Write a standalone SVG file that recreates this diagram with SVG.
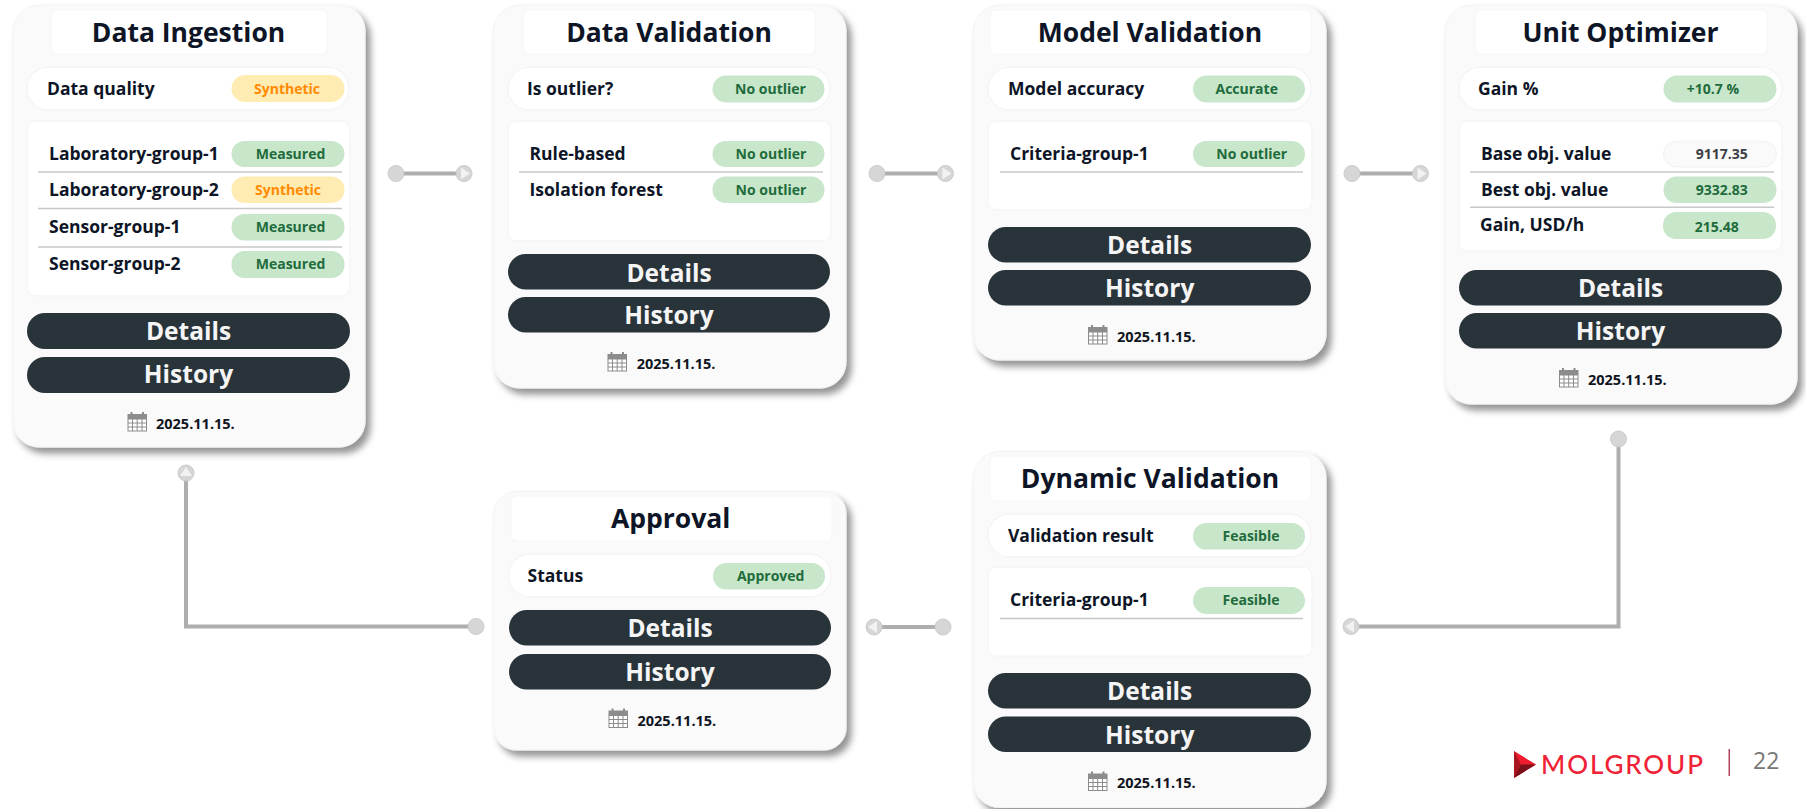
<svg xmlns="http://www.w3.org/2000/svg" width="1806" height="809" viewBox="0 0 1806 809">
<style>
text{font-family:"Open Sans","Noto Sans","Liberation Sans",sans-serif;font-weight:700}
.card{fill:#fafafa;stroke:#f3f3f3;stroke-width:1;filter:url(#sh)}
.title{fill:#fff;stroke:#f6f6f6;stroke-width:1}
.tt{font-size:26.500px;fill:#0d1526;text-anchor:middle}
.row{fill:#fff;stroke:#f5f5f5;stroke-width:1.5}
.panel{fill:#fff;stroke:#f7f7f7;stroke-width:2}
.lb{font-size:17.500px;fill:#0d1526}
.sep{stroke:#c8c8c8;stroke-width:1.5}
.g{fill:#c8e6c9}.y{fill:#ffecb3}.n{fill:#fafafa;stroke:#f2f2f2}
.gt,.yt,.nt{font-size:14px;text-anchor:middle}
.gt{fill:#1e6b3c}.yt{fill:#ff8a00}.nt{fill:#3a3f44}
.btn{fill:#29333a}
.bt{font-size:24.500px;fill:#f5f5f5;text-anchor:middle}
.dt{font-size:14.500px;fill:#10151f}
.ln{fill:none;stroke:#aeaeae;stroke-width:4}
.s{fill:#d6d6d6;stroke:#cccccc;stroke-width:1}
.e{fill:#d6d6d6;stroke:#cccccc;stroke-width:1}
.h{fill:#f2f2f2}
</style>
<defs>
<filter id="sh" x="-10%" y="-10%" width="125%" height="125%"><feDropShadow dx="5" dy="6" stdDeviation="3.5" flood-color="#000" flood-opacity="0.42"/></filter>
<g id="cal">
<rect x="0" y="2" width="19.500" height="5" fill="#8c8c8c"/>
<rect x="3" y="0" width="2" height="4" fill="#8c8c8c"/><rect x="14.500" y="0" width="2" height="4" fill="#8c8c8c"/>
<rect x="0.500" y="7" width="18.500" height="12" fill="#fff" stroke="#8c8c8c"/>
<path d="M0.500 11h18.500M0.500 15h18.500M5 7v12M9.700 7v12M14.500 7v12" stroke="#8c8c8c" stroke-width="1" fill="none"/>
</g>
</defs>
<rect width="1806" height="809" fill="#fff"/>

<g id="connectors">
<path class="ln" d="M396 173.500H464"/><circle class="s" cx="396" cy="173.500" r="8"/><circle class="e" cx="464" cy="173.500" r="8"/><path class="h" d="M461 167.500l9 6-9 6z"/>
<path class="ln" d="M877 173.500H945"/><circle class="s" cx="877" cy="173.500" r="8"/><circle class="e" cx="945.500" cy="173.500" r="8"/><path class="h" d="M942.500 167.500l9 6-9 6z"/>
<path class="ln" d="M1352 173.500H1420"/><circle class="s" cx="1352" cy="173.500" r="8"/><circle class="e" cx="1420.500" cy="173.500" r="8"/><path class="h" d="M1417.500 167.500l9 6-9 6z"/>
<path class="ln" d="M1618.500 439V626.500H1351"/><circle class="s" cx="1618.500" cy="439" r="8"/><circle class="e" cx="1351" cy="626.500" r="8"/><path class="h" d="M1354 620.500l-9 6 9 6z"/>
<path class="ln" d="M943 627H874"/><circle class="s" cx="943" cy="627" r="8"/><circle class="e" cx="874" cy="627" r="8"/><path class="h" d="M877 621l-9 6 9 6z"/>
<path class="ln" d="M476 626.500H186V473"/><circle class="s" cx="476" cy="626.500" r="8"/><circle class="e" cx="186" cy="473" r="8"/><path class="h" d="M180 476l6-9 6 9z"/>
</g>

<g id="data-ingestion">
<rect class="card" x="13" y="5" width="352" height="442" rx="26"/>
<rect class="title" x="51" y="10" width="276" height="44" rx="6"/>
<text class="tt" x="188.500" y="42">Data Ingestion</text>
<rect class="row" x="27" y="67" width="322" height="43" rx="21.500"/>
<text class="lb" x="47" y="95">Data quality</text>
<rect class="y" x="231.500" y="75" width="113" height="27" rx="13.500"/><text class="yt" x="287" y="94">Synthetic</text>
<rect class="panel" x="27" y="121" width="323" height="175" rx="8"/>
<text class="lb" x="49" y="160">Laboratory-group-1</text><rect class="g" x="231.500" y="141" width="113" height="26" rx="13"/><text class="gt" x="290.500" y="159">Measured</text>
<path class="sep" d="M38 172H342M38 208.500H342M38 247H342"/>
<text class="lb" x="49" y="195.500">Laboratory-group-2</text><rect class="y" x="231.500" y="176.500" width="113" height="26.500" rx="13"/><text class="yt" x="288" y="195">Synthetic</text>
<text class="lb" x="49" y="232.500">Sensor-group-1</text><rect class="g" x="231.500" y="214" width="113" height="26.500" rx="13"/><text class="gt" x="290.500" y="232">Measured</text>
<text class="lb" x="49" y="270">Sensor-group-2</text><rect class="g" x="231.500" y="251" width="113" height="27" rx="13"/><text class="gt" x="290.500" y="269">Measured</text>
<rect class="btn" x="27" y="313" width="323" height="36" rx="18"/><text class="bt" x="188.500" y="340">Details</text>
<rect class="btn" x="27" y="357" width="323" height="36" rx="18"/><text class="bt" x="188.500" y="383">History</text>
<use href="#cal" x="127.500" y="412"/><text class="dt" x="156" y="429">2025.11.15.</text>
</g>

<g id="data-validation">
<rect class="card" x="493.500" y="5" width="352.500" height="383" rx="26"/>
<rect class="title" x="523" y="10" width="292" height="44" rx="6"/>
<text class="tt" x="669" y="42">Data Validation</text>
<rect class="row" x="508" y="67" width="322" height="43" rx="21.500"/>
<text class="lb" x="527" y="95">Is outlier?</text>
<rect class="g" x="712.500" y="75.500" width="112" height="27" rx="13.500"/><text class="gt" x="770.500" y="94">No outlier</text>
<rect class="panel" x="508" y="121" width="323" height="120" rx="8"/>
<text class="lb" x="529.500" y="160">Rule-based</text><rect class="g" x="712.500" y="141" width="112" height="26" rx="13"/><text class="gt" x="771" y="159">No outlier</text>
<path class="sep" d="M519 172H823"/>
<text class="lb" x="529.500" y="195.500">Isolation forest</text><rect class="g" x="712.500" y="176.500" width="112" height="26.500" rx="13"/><text class="gt" x="771" y="195">No outlier</text>
<rect class="btn" x="508" y="254" width="322" height="35.500" rx="17.700"/><text class="bt" x="669" y="281.500">Details</text>
<rect class="btn" x="508" y="297" width="322" height="35.500" rx="17.700"/><text class="bt" x="669" y="324">History</text>
<use href="#cal" x="607.500" y="352"/><text class="dt" x="636.700" y="368.500">2025.11.15.</text>
</g>

<g id="model-validation">
<rect class="card" x="973.500" y="5" width="352.500" height="355" rx="26"/>
<rect class="title" x="990" y="10" width="321" height="44" rx="6"/>
<text class="tt" x="1150" y="42">Model Validation</text>
<rect class="row" x="988" y="67" width="323" height="43" rx="21.500"/>
<text class="lb" x="1008" y="95">Model accuracy</text>
<rect class="g" x="1193" y="75.500" width="112" height="27" rx="13.500"/><text class="gt" x="1246.700" y="94">Accurate</text>
<rect class="panel" x="988" y="121" width="324" height="89" rx="8"/>
<text class="lb" x="1010" y="160">Criteria-group-1</text><rect class="g" x="1193" y="141" width="112" height="26" rx="13"/><text class="gt" x="1251.700" y="159">No outlier</text>
<path class="sep" d="M1000 172H1303"/>
<rect class="btn" x="988" y="227" width="323" height="35.500" rx="17.700"/><text class="bt" x="1149.700" y="254">Details</text>
<rect class="btn" x="988" y="270" width="323" height="35.500" rx="17.700"/><text class="bt" x="1149.700" y="297">History</text>
<use href="#cal" x="1088" y="325"/><text class="dt" x="1117" y="341.500">2025.11.15.</text>
</g>

<g id="unit-optimizer">
<rect class="card" x="1445" y="5" width="352" height="399" rx="26"/>
<rect class="title" x="1475" y="10" width="292" height="44" rx="6"/>
<text class="tt" x="1620.500" y="42">Unit Optimizer</text>
<rect class="row" x="1459" y="67" width="323" height="43" rx="21.500"/>
<text class="lb" x="1478" y="95">Gain %</text>
<rect class="g" x="1663.500" y="75.500" width="113" height="27" rx="13.500"/><text class="gt" x="1713" y="94">+10.7 %</text>
<rect class="panel" x="1459" y="121" width="323" height="130" rx="8"/>
<text class="lb" x="1481" y="160">Base obj. value</text><rect class="n" x="1663.500" y="141" width="113" height="26" rx="13"/><text class="nt" x="1721.700" y="159">9117.35</text>
<path class="sep" d="M1470 172H1774M1470 207.300H1774"/>
<text class="lb" x="1481" y="195.500">Best obj. value</text><rect class="g" x="1663.500" y="176.500" width="113" height="26.500" rx="13"/><text class="gt" x="1721.700" y="195">9332.83</text>
<text class="lb" x="1480" y="230.500">Gain, USD/h</text><rect class="g" x="1663" y="212" width="113" height="27" rx="13"/><text class="gt" x="1716.700" y="231.500">215.48</text>
<rect class="btn" x="1459" y="270" width="323" height="35.500" rx="17.700"/><text class="bt" x="1620.500" y="296.500">Details</text>
<rect class="btn" x="1459" y="313" width="323" height="35.500" rx="17.700"/><text class="bt" x="1620.500" y="339.500">History</text>
<use href="#cal" x="1559" y="368"/><text class="dt" x="1588" y="384.500">2025.11.15.</text>
</g>

<g id="approval">
<rect class="card" x="494" y="491.500" width="352" height="258.500" rx="22"/>
<rect class="title" x="511" y="496" width="321" height="45" rx="6"/>
<text class="tt" x="670.700" y="528">Approval</text>
<rect class="row" x="508.500" y="554" width="322.500" height="43" rx="21.500"/>
<text class="lb" x="527.500" y="581.500">Status</text>
<rect class="g" x="713" y="563" width="112" height="26.500" rx="13.200"/><text class="gt" x="770.700" y="580.700">Approved</text>
<rect class="btn" x="509" y="610" width="322" height="35.500" rx="17.700"/><text class="bt" x="670" y="636.500">Details</text>
<rect class="btn" x="509" y="654" width="322" height="35.500" rx="17.700"/><text class="bt" x="670" y="680.500">History</text>
<use href="#cal" x="608.500" y="708.500"/><text class="dt" x="637.500" y="725.500">2025.11.15.</text>
</g>

<g id="dynamic-validation">
<rect class="card" x="973.500" y="451.500" width="352.500" height="356" rx="26"/>
<rect class="title" x="990" y="456" width="321" height="45" rx="6"/>
<text class="tt" x="1150" y="488">Dynamic Validation</text>
<rect class="row" x="988" y="514" width="323" height="43" rx="21.500"/>
<text class="lb" x="1008" y="541.500">Validation result</text>
<rect class="g" x="1193" y="523" width="112" height="26.500" rx="13.200"/><text class="gt" x="1251" y="540.700">Feasible</text>
<rect class="panel" x="988" y="567" width="324" height="89.500" rx="8"/>
<text class="lb" x="1010" y="606">Criteria-group-1</text><rect class="g" x="1193" y="587" width="112" height="27" rx="13.500"/><text class="gt" x="1251" y="605">Feasible</text>
<path class="sep" d="M1000 618.500H1303"/>
<rect class="btn" x="988" y="673" width="323" height="35.500" rx="17.700"/><text class="bt" x="1149.700" y="700">Details</text>
<rect class="btn" x="988" y="716.500" width="323" height="35.500" rx="17.700"/><text class="bt" x="1149.700" y="743.500">History</text>
<use href="#cal" x="1088" y="771.500"/><text class="dt" x="1117" y="788">2025.11.15.</text>
</g>

<g id="footer">
<path d="M1514 751L1536 764.500L1514 778z" fill="#ee1c2e"/>
<path d="M1514 751L1521 764.500L1514 778z" fill="#a81622"/>
<path d="M1514 778L1521 764.500L1536 764.500z" fill="#7a1019"/>
<text x="1541" y="774" style="font-family:Lato,'Open Sans',sans-serif;font-weight:500;font-size:26px;letter-spacing:1.900px" fill="#ef2236">MOLGROUP</text>
<rect x="1728.500" y="749" width="1.500" height="27" fill="#b04a5e"/>
<text x="1753" y="769" style="font-weight:400;font-size:23px" fill="#777">22</text>
</g>
</svg>
